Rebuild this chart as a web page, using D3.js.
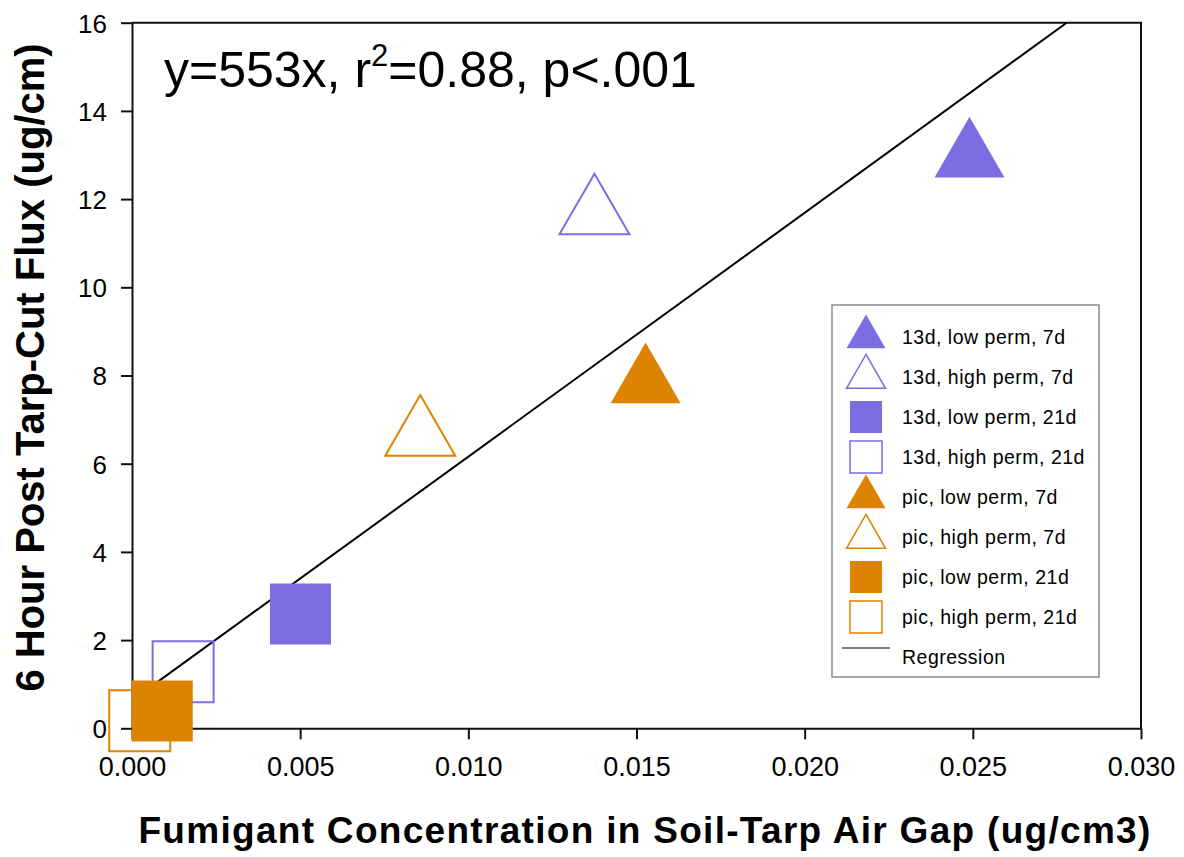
<!DOCTYPE html>
<html>
<head>
<meta charset="utf-8">
<script src="https://cdn.jsdelivr.net/npm/d3@7"></script>
<style>
  html, body { margin: 0; padding: 0; background: #fff; }
  svg { display: block; font-family: "Liberation Sans", Arial, sans-serif; }
</style>
</head>
<body>
<svg id="chart" width="1184" height="857"></svg>
<script>
// ---- data ----
const categories = ["13d, low perm, 7d", "13d, high perm, 7d", "13d, low perm, 21d", "13d, high perm, 21d",
                    "pic, low perm, 7d", "pic, high perm, 7d", "pic, low perm, 21d", "pic, high perm, 21d"];
const xValues = [0.0249, 0.01375, 0.00501, 0.00152, 0.01527, 0.00857, 0.00090, 0.00023];
const yValues = [12.95, 11.66, 2.59, 1.28, 7.83, 6.64, 0.39, 0.17];
const shapes  = ["triangle", "triangle", "square", "square", "triangle", "triangle", "square", "square"];
const filled  = [true, false, true, false, true, false, true, false];
const groups  = ["13d", "13d", "13d", "13d", "pic", "pic", "pic", "pic"];
const regSlope = 553;
const regIntercept = 0.63;
const regXRange = [0.00023, 0.02779];
const xTicks = [0, 0.005, 0.010, 0.015, 0.020, 0.025, 0.030];
const yTicks = [0, 2, 4, 6, 8, 10, 12, 14, 16];
const titleParts = ["y=553x, r", "2", "=0.88, p<.001"];
const xLabel = "Fumigant Concentration in Soil-Tarp Air Gap (ug/cm3)";
const yLabel = "6 Hour Post Tarp-Cut Flux (ug/cm)";

// ---- styling ----
const colors = { "13d": "#7B6EE2", "pic": "#DE8300" };
const svg = d3.select("#chart");
const L = 132, R = 1141, T = 22.7, B = 728.3;
const x = d3.scaleLinear().domain([0, 0.03]).range([L, R]);
const y = d3.scaleLinear().domain([0, 16]).range([B, T]);

// axes
const xAxis = d3.axisBottom(x).tickValues(xTicks).tickFormat(d3.format(".3f")).tickSize(11).tickSizeOuter(0);
const yAxis = d3.axisLeft(y).tickValues(yTicks).tickFormat(d3.format("d")).tickSize(11).tickSizeOuter(0);

const gx = svg.append("g").attr("transform", `translate(0,${B})`).call(xAxis);
gx.selectAll("text").attr("font-size", 27).attr("font-family", "Liberation Sans, Arial, sans-serif")
  .attr("fill", "#000").attr("dy", null).attr("y", 48);
const gy = svg.append("g").attr("transform", `translate(${L},0)`).call(yAxis);
gy.selectAll("text").attr("font-size", 26).attr("font-family", "Liberation Sans, Arial, sans-serif")
  .attr("fill", "#000").attr("x", -25).attr("dy", "0.36em");
svg.selectAll(".domain, .tick line").attr("stroke", "#111").attr("stroke-width", 2);

// frame top/right
svg.append("path")
  .attr("d", `M${L},${T}H${R}V${B}`)
  .attr("fill", "none").attr("stroke", "#111").attr("stroke-width", 2);

// regression line
const line = d3.line().x(d => x(d)).y(d => y(regSlope * d + regIntercept));
svg.append("path").datum(regXRange).attr("d", line)
  .attr("fill", "none").attr("stroke", "#000").attr("stroke-width", 2);

// markers
const triSizePlot = 2120, sqSizePlot = 61 * 61;
const drawOrder = [0, 1, 2, 3, 4, 5, 7, 6];
function symPath(shape, size) {
  return d3.symbol().type(shape === "triangle" ? d3.symbolTriangle : d3.symbolSquare).size(size)();
}
svg.append("g").selectAll("path").data(drawOrder).join("path")
  .attr("transform", i => `translate(${x(xValues[i])},${y(yValues[i])})`)
  .attr("d", i => symPath(shapes[i], shapes[i] === "triangle" ? triSizePlot : sqSizePlot))
  .attr("fill", i => filled[i] ? colors[groups[i]] : "none")
  .attr("stroke", i => filled[i] ? "none" : colors[groups[i]])
  .attr("stroke-width", 2);

// title
const title = svg.append("text").attr("x", 164).attr("y", 87).attr("font-size", 50).attr("fill", "#000");
title.append("tspan").text(titleParts[0]);
title.append("tspan").attr("font-size", 31).attr("dy", -21).text(titleParts[1]);
title.append("tspan").attr("dy", 21).text(titleParts[2]);

// axis labels
svg.append("text").attr("x", 645).attr("y", 843).attr("text-anchor", "middle")
  .attr("font-size", 37).attr("font-weight", "bold").attr("letter-spacing", 1.3).attr("fill", "#000")
  .text(xLabel);
svg.append("text").attr("transform", `translate(44,${(T + B) / 2 - 8}) rotate(-90)`)
  .attr("text-anchor", "middle").attr("font-size", 40).attr("font-weight", "bold").attr("fill", "#000")
  .text(yLabel);

// legend
const lg = svg.append("g");
lg.append("rect").attr("x", 832).attr("y", 305).attr("width", 267).attr("height", 372)
  .attr("fill", "#fff").attr("stroke", "#8a8a8a").attr("stroke-width", 1.5);
const rowY0 = 337, rowStep = 40, symX = 866, textX = 902;
categories.forEach((c, i) => {
  const cy = rowY0 + i * rowStep;
  lg.append("path")
    .attr("transform", `translate(${symX},${cy})`)
    .attr("d", symPath(shapes[i], shapes[i] === "triangle" ? 659 : 1024))
    .attr("fill", filled[i] ? colors[groups[i]] : "none")
    .attr("stroke", filled[i] ? "none" : colors[groups[i]])
    .attr("stroke-width", 1.5);
  lg.append("text").attr("x", textX).attr("y", cy + 7).attr("font-size", 19.5)
    .attr("letter-spacing", 0.5).attr("fill", "#000").text(c);
});
const regRowY = rowY0 + categories.length * rowStep;
lg.append("line").attr("x1", 842).attr("x2", 890).attr("y1", regRowY - 9).attr("y2", regRowY - 9)
  .attr("stroke", "#555").attr("stroke-width", 1.5);
lg.append("text").attr("x", textX).attr("y", regRowY + 7).attr("font-size", 19.5)
  .attr("letter-spacing", 0.5).attr("fill", "#000").text("Regression");
</script>
</body>
</html>
